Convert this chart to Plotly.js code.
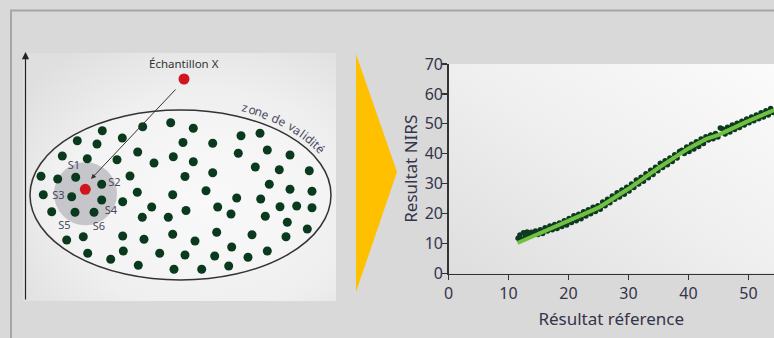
<!DOCTYPE html>
<html><head><meta charset="utf-8">
<script src="https://cdn.plot.ly/plotly-3.0.1.min.js"></script>
<style>html,body{margin:0;padding:0;background:#d9d9d9;overflow:hidden}</style>
</head><body><div id="chart" style="width:774px;height:338px"></div>
<script>
// ---------- right chart data ----------
const refValues = [11.6,11.9,12.2,12.5,12.8,13.1,13.4,13.8,14.1,14.5,14.9,15.3,15.7,16.1,16.5,16.9,17.3,17.7,18.1,18.5,18.9,19.3,19.7,20.1,20.5,20.9,21.3,21.7,22.1,22.5,22.9,23.3,23.7,24.1,24.5,24.9,25.3,25.7,26.1,26.5,26.9,27.3,27.7,28.1,28.5,28.9,29.3,29.7,30.1,30.5,30.9,31.3,31.7,32.1,32.5,32.9,33.3,33.7,34.1,34.5,34.9,35.3,35.7,36.1,36.5,36.9,37.3,37.7,38.1,38.5,38.9,39.3,39.7,40.1,40.5,40.9,41.3,41.7,42.1,42.5,42.9,43.3,43.7,44.1,44.5,44.9,45.3,45.7,46.1,46.5,46.9,47.3,47.7,48.1,48.5,48.9,49.3,49.7,50.1,50.5,50.9,51.3,51.7,52.1,52.5,52.9,53.3,53.7,54.1];
const nirsValues = [11.8,12.9,11.4,13.6,12.2,13.9,12.6,13.8,13.1,14.2,13.0,14.6,13.4,15.3,14.2,15.9,14.6,16.4,15.0,16.9,15.7,17.6,16.2,18.4,17.0,19.3,17.6,19.8,18.3,20.6,19.2,21.3,20.0,22.1,20.7,22.6,21.5,23.9,22.6,24.8,23.6,25.9,24.8,27.0,25.6,27.9,26.5,28.8,27.6,29.9,28.7,31.2,29.9,32.2,30.8,33.3,32.0,34.5,33.1,35.5,34.3,36.8,35.4,37.7,36.3,38.6,37.4,39.7,38.6,40.8,41.2,40.1,42.3,40.8,43.2,41.6,44.0,42.4,44.9,43.4,45.7,44.6,46.3,45.0,46.8,45.6,48.6,48.3,46.6,48.9,47.3,49.6,48.1,50.2,48.8,50.9,49.6,51.6,50.4,52.3,51.0,53.0,51.7,53.7,52.3,54.4,53.0,55.1,53.8];
const fitRef  = [11.5,15,20,25,30,35,40,43,45,50,54.5];
const fitNirs = [10.2,13.2,17.4,22.0,28.3,35.3,41.8,45.0,46.3,51.0,54.8];
const xTickVals = [0,10,20,30,40,50];
const yTickVals = [0,10,20,30,40,50,60,70];
const xTitle = 'Résultat réference';
const yTitle = 'Resultat NIRS';

// ---------- left schematic data (drawing units) ----------
const calibX = [102.3,77.3,97,122.3,142.7,170.7,183,62.3,87.3,117,137.7,154,173.3,41,57.7,75.7,101.7,130,185,43.3,71.7,101.7,122.7,137.3,172.7,51.7,75,94,151.7,142.3,168.3,66.7,83.3,122.7,144,172.7,87.7,110.7,123.3,159.7,185,138.3,174,186,193.3,212.7,241,260,238.3,267.3,290,193.3,212.7,255.3,279.3,309.3,269.3,206,236.7,260.7,290,312,217.7,231,265.3,280,296.7,312,287.3,307.3,216.7,195,252,286,214.7,231.7,248,267.3,201.7,228.7];
const calibY = [130.7,140.7,144,138,126.7,122.7,142.5,156,158.7,159.7,152,163,156.7,176.3,179,177.3,184.3,176,176.5,194.7,196.7,200,201.7,192.3,194.7,211.7,212.3,212.3,207,217.3,217.3,240,236.7,236,239.3,234.3,253.3,259.3,251,253.3,255,265.3,269.3,210.5,128.3,143.3,135.7,133.3,153.3,150,155,161.7,172.7,167,169.7,170.7,184.3,190.7,198,199,189.3,191.3,207,214,216.3,206.7,206,207.7,222.3,229,232.3,241,234.7,236.7,256,247,257.3,251,269.3,266];
const sampleX = [184], sampleY = [79];
const targetX = [85.3], targetY = [189.3];
const neighbourLabels = ['S1','S2','S3','S4','S5','S6'];
const neighbourLabelX = [74,114.5,58.5,111,64.5,99];
const neighbourLabelY = [166,183.5,196,211.5,226,227.5];
const sampleLabel = 'Échantillon X';
const zoneLabel = 'zone de validité';

function gradURI(def){
  const svg = '<svg xmlns="http://www.w3.org/2000/svg" width="100" height="100" viewBox="0 0 100 100" preserveAspectRatio="none"><defs>'+def+'</defs><rect x="0" y="0" width="100" height="100" fill="url(#g)"/></svg>';
  return 'data:image/svg+xml;charset=utf-8,' + encodeURIComponent(svg);
}
const W=774,H=338;
function px(x){return x/W;} function py(y){return 1-y/H;}

const leftGrad = gradURI('<radialGradient id="g" cx="0.6" cy="0.6" r="0.75"><stop offset="0" stop-color="#f7f7f7"/><stop offset="0.6" stop-color="#efefef"/><stop offset="1" stop-color="#dfdfdf"/></radialGradient>');
const mainGrad = gradURI('<linearGradient id="g" x1="0" y1="1" x2="1" y2="0"><stop offset="0" stop-color="#dedede"/><stop offset="0.5" stop-color="#efefef"/><stop offset="1" stop-color="#fbfbfb"/></linearGradient>');

const plotL=448.5, plotT=64, plotB=273.5, pxPerUnit=6.0;

// curved label along ellipse
const ecx=180.5, ecy=195, ea=159.5, eb=95.5;
const samples=[]; let cum=0;
for(let i=0;i<=400;i++){
  const t=(70-45*i/400)*Math.PI/180;
  const x=ecx+ea*Math.cos(t), y=ecy-eb*Math.sin(t);
  if(i>0){const p=samples[i-1]; cum+=Math.hypot(x-p.x,y-p.y);}
  samples.push({x,y,t,s:cum});
}
function atS(s){for(const p of samples){if(p.s>=s)return p;}return samples[samples.length-1];}
const cw={'z':.5,'o':.556,'n':.556,'e':.556,' ':.3,'d':.556,'v':.5,'a':.556,'l':.25,'i':.25,'t':.3,'é':.556};
const fsz=12; const spacing=0.5;
let s0 = 0;
for(const p of samples){ if(p.x>=242){s0=p.s;break;} }
const zoneAnn=[]; let acc=s0;
for(const ch of zoneLabel){
  const w=(cw[ch]||.55)*fsz+spacing;
  const p=atS(acc+w/2);
  const ang=Math.atan2(eb*Math.cos(p.t), ea*Math.sin(p.t))*180/Math.PI;
  if(ch!==' ') zoneAnn.push({xref:'x2',yref:'y2',x:p.x,y:p.y,text:ch,showarrow:false,textangle:ang,
    font:{family:'Noto Sans, sans-serif',size:fsz,color:'#4a4a62'},xanchor:'center',yanchor:'middle'});
  acc+=w;
}

const traces=[
  {x:refValues,y:nirsValues,type:'scatter',mode:'markers',xaxis:'x',yaxis:'y',
   marker:{size:5.5,color:'#0b3a1c'},hoverinfo:'skip',showlegend:false},
  {x:fitRef,y:fitNirs,type:'scatter',mode:'lines',xaxis:'x',yaxis:'y',
   line:{color:'#72c043',width:4},hoverinfo:'skip',showlegend:false},
  {x:calibX,y:calibY,type:'scatter',mode:'markers',xaxis:'x2',yaxis:'y2',
   marker:{size:9,color:'#0a3a1e'},hoverinfo:'skip',showlegend:false},
  {x:sampleX.concat(targetX),y:sampleY.concat(targetY),type:'scatter',mode:'markers',xaxis:'x2',yaxis:'y2',
   marker:{size:11,color:'#d0151f'},hoverinfo:'skip',showlegend:false},
  {x:neighbourLabelX,y:neighbourLabelY,text:neighbourLabels,type:'scatter',mode:'text',xaxis:'x2',yaxis:'y2',
   textfont:{family:'Noto Sans, sans-serif',size:11,color:'#48485e'},hoverinfo:'skip',showlegend:false}
];

const axFont={family:'Noto Sans, sans-serif',size:16,color:'#34344a'};
const layout={
  width:W,height:H,autosize:false,margin:{l:0,r:0,t:0,b:0},
  paper_bgcolor:'#d9d9d9',plot_bgcolor:'rgba(0,0,0,0)',showlegend:false,
  xaxis:{domain:[px(plotL),1],range:[0,(W-plotL)/pxPerUnit],anchor:'y',tickvals:xTickVals,
    showline:true,linecolor:'#333',linewidth:1.3,ticks:'outside',ticklen:5,tickwidth:1.2,tickcolor:'#333',
    showgrid:false,zeroline:false,tickfont:axFont,fixedrange:true,
    title:{text:xTitle,font:{family:'Noto Sans, sans-serif',size:17,color:'#34344a'},standoff:10}},
  yaxis:{domain:[py(plotB),py(plotT)],range:[0,70],anchor:'x',tickvals:yTickVals,
    showline:true,linecolor:'#333',linewidth:1.3,ticks:'outside',ticklen:5,tickwidth:1.2,tickcolor:'#333',
    showgrid:false,zeroline:false,tickfont:axFont,fixedrange:true,ticklabelstandoff:-4,
    title:{text:yTitle,font:{family:'Noto Sans, sans-serif',size:17,color:'#34344a'},standoff:2}},
  xaxis2:{domain:[0,1],range:[0,W],anchor:'y2',visible:false,fixedrange:true},
  yaxis2:{domain:[0,1],range:[H,0],anchor:'x2',visible:false,fixedrange:true},
  images:[
    {source:leftGrad,xref:'paper',yref:'paper',x:px(23),y:py(53),sizex:(336-23)/W,sizey:(301-53)/H,
     xanchor:'left',yanchor:'top',sizing:'stretch',layer:'below'},
    {source:mainGrad,xref:'paper',yref:'paper',x:px(plotL),y:py(plotT),sizex:(W-plotL)/W,sizey:(plotB-plotT)/H,
     xanchor:'left',yanchor:'top',sizing:'stretch',layer:'below'}
  ],
  shapes:[
    {type:'rect',xref:'x2',yref:'y2',x0:11,y0:10.5,x1:900,y1:500,line:{color:'#a6a6a6',width:2},fillcolor:'rgba(0,0,0,0)',layer:'below'},
    {type:'path',xref:'x2',yref:'y2',path:'M356,54 L397,172 L356,292 Z',fillcolor:'#ffc000',line:{width:0},layer:'below'},
    {type:'circle',xref:'x2',yref:'y2',x0:ecx-150.5,x1:ecx+150.5,y0:ecy-85,y1:ecy+85,line:{color:'#333',width:1.5},fillcolor:'rgba(255,255,255,0.25)',layer:'below'},
    {type:'circle',xref:'x2',yref:'y2',x0:85.5-31.5,x1:85.5+31.5,y0:193.8-31.5,y1:193.8+31.5,line:{width:0},fillcolor:'#c6c6ca',layer:'below'}
  ],
  annotations:[
    {xref:'x2',yref:'y2',x:25.5,y:52,ax:25.5,ay:301,axref:'x2',ayref:'y2',text:'',showarrow:true,arrowhead:2,arrowsize:1.2,arrowwidth:1.2,arrowcolor:'#222'},
    {xref:'x2',yref:'y2',x:91,y:179,ax:177,ay:88,axref:'x2',ayref:'y2',text:'',showarrow:true,arrowhead:2,arrowsize:1,arrowwidth:1,arrowcolor:'#333'},
    {xref:'x2',yref:'y2',x:183.5,y:63,text:sampleLabel,showarrow:false,font:{family:'Noto Sans, sans-serif',size:11.5,color:'#333'}}
  ].concat(zoneAnn)
};
Plotly.newPlot('chart',traces,layout,{staticPlot:true,displayModeBar:false});
</script></body></html>
